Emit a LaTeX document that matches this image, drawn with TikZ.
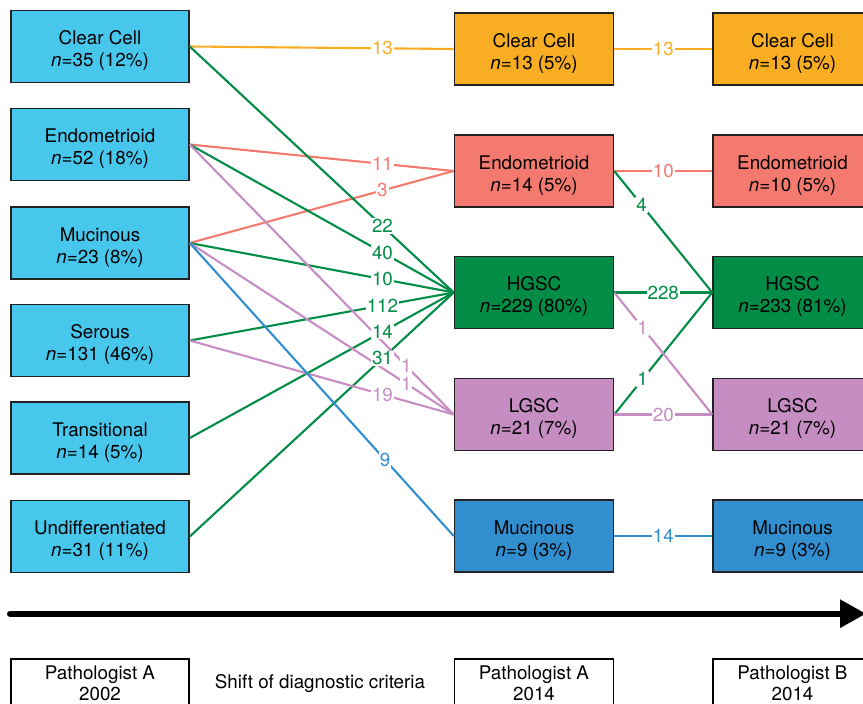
\documentclass[tikz,border=0pt]{standalone}
\usepackage{fontspec}
\setmainfont{TeX Gyre Heros}
\usepackage{xcolor}
\usepackage{tikz}
\usetikzlibrary{positioning,arrows.meta}
\definecolor{oldcolor}{RGB}{72,199,237}
\definecolor{clearcolor}{RGB}{249,173,34}
\definecolor{endocolor}{RGB}{244,122,111}
\definecolor{hgsccolor}{RGB}{2,140,70}
\definecolor{lgsccolor}{RGB}{198,141,195}
\definecolor{muccolor}{RGB}{49,143,208}
\definecolor{boxline}{RGB}{34,34,34}
\tikzset{
    diag box/.style={rectangle, draw=boxline, line width=1.5pt, align=center, inner sep=0pt,
        minimum height=72, font=\fontsize{18.8}{22}\selectfont, text height=40pt, text depth=0pt},
    old box/.style={diag box, fill=oldcolor, minimum width=178},
    new box/.style={diag box, minimum width=159},
    clear box/.style={new box, fill=clearcolor},
    endo box/.style={new box, fill=endocolor},
    hgsc box/.style={new box, fill=hgsccolor},
    lgsc box/.style={new box, fill=lgsccolor},
    muc box/.style={new box, fill=muccolor},
    rater box/.style={rectangle, draw=black, line width=1.2pt, align=center, inner sep=0pt,
        minimum height=48, font=\fontsize{18.8}{21}\selectfont},
    flow/.style={line width=2.1pt},
    count/.style={fill=white, inner sep=1pt, font=\fontsize{18.8}{20}\selectfont},
    timeline/.style={line width=6pt, line cap=round, -{Triangle[length=26pt,width=27pt]}}
}
% from/to/count/colour/pos
\newcommand{\firstflows}{l-clear/a-clear/13/clearcolor/.73,
    l-endo/a-endo/11/endocolor/.73, l-muc/a-endo/3/endocolor/.73,
    l-clear/a-hgsc/22/hgsccolor/.73, l-endo/a-hgsc/40/hgsccolor/.73,
    l-muc/a-hgsc/10/hgsccolor/.73, l-ser/a-hgsc/112/hgsccolor/.73,
    l-trans/a-hgsc/14/hgsccolor/.73, l-undiff/a-hgsc/31/hgsccolor/.73,
    l-endo/a-lgsc/1/lgsccolor/.82, l-muc/a-lgsc/1/lgsccolor/.82,
    l-ser/a-lgsc/19/lgsccolor/.73, l-muc/a-muc/9/muccolor/.74}
\newcommand{\secondflows}{a-clear/b-clear/13/clearcolor/.5,
    a-endo/b-endo/10/endocolor/.5, a-endo/b-hgsc/4/hgsccolor/.28,
    a-hgsc/b-hgsc/228/hgsccolor/.5, a-lgsc/b-hgsc/1/hgsccolor/.29,
    a-hgsc/b-lgsc/1/lgsccolor/.29, a-lgsc/b-lgsc/20/lgsccolor/.5,
    a-muc/b-muc/14/muccolor/.5}

\begin{document}
\begin{tikzpicture}[x=1pt, y=-1pt]
    \useasboundingbox (0,0) rectangle (863,704);
    \clip (0,0) rectangle (863,704);

    % Pathologist A, 2002
    \node[old box] (l-clear) at (100,46.5) {Clear Cell\\\textit{n}=35 (12\%)};
    \node[old box] (l-endo) at (100,144.5) {Endometrioid\\\textit{n}=52 (18\%)};
    \node[old box] (l-muc) at (100,243) {Mucinous\\\textit{n}=23 (8\%)};
    \node[old box] (l-ser) at (100,340.5) {Serous\\\textit{n}=131 (46\%)};
    \node[old box] (l-trans) at (100,438) {Transitional\\\textit{n}=14 (5\%)};
    \node[old box] (l-undiff) at (100,536.5) {Undifferentiated\\\textit{n}=31 (11\%)};

    % Pathologist A, 2014
    \node[clear box] (a-clear) at (534,49) {Clear Cell\\\textit{n}=13 (5\%)};
    \node[endo box] (a-endo) at (534,171) {Endometrioid\\\textit{n}=14 (5\%)};
    \node[hgsc box] (a-hgsc) at (534,292.5) {HGSC\\\textit{n}=229 (80\%)};
    \node[lgsc box] (a-lgsc) at (534,414.5) {LGSC\\\textit{n}=21 (7\%)};
    \node[muc box] (a-muc) at (534,536) {Mucinous\\\textit{n}=9 (3\%)};

    % Pathologist B, 2014 (cut off at the right)
    \node[clear box] (b-clear) at (792.5,49) {Clear Cell\\\textit{n}=13 (5\%)};
    \node[endo box] (b-endo) at (792.5,171) {Endometrioid\\\textit{n}=10 (5\%)};
    \node[hgsc box] (b-hgsc) at (792.5,292.5) {HGSC\\\textit{n}=233 (81\%)};
    \node[lgsc box] (b-lgsc) at (792.5,414.5) {LGSC\\\textit{n}=21 (7\%)};
    \node[muc box] (b-muc) at (792.5,536) {Mucinous\\\textit{n}=9 (3\%)};

    % Connectors first, counts on top of all of them
    \foreach \src/\dst/\cnt/\col/\ps in \firstflows
        \draw[flow, \col] (\src.east) -- (\dst.west);
    \foreach \src/\dst/\cnt/\col/\ps in \secondflows
        \draw[flow, \col] (\src.east) -- (\dst.west);
    \foreach \src/\dst/\cnt/\col/\ps in \firstflows
        \path (\src.east) -- node[count, text=\col, pos=\ps] {\cnt} (\dst.west);
    \foreach \src/\dst/\cnt/\col/\ps in \secondflows
        \path (\src.east) -- node[count, text=\col, pos=\ps] {\cnt} (\dst.west);

    % Time axis
    \coordinate (t-start) at (10,613.7);
    \coordinate (t-end) at (866,613.7);
    \draw[timeline] (t-start) -- (t-end);

    % Raters along the bottom
    \node[rater box, minimum width=178] (r-a02) at (100,683) {Pathologist A\\2002};
    \node[font=\fontsize{18.8}{21}\selectfont] (shift) at (320,684) {Shift of diagnostic criteria};
    \node[rater box, minimum width=159] (r-a14) at (534,683) {Pathologist A\\2014};
    \node[rater box, minimum width=159] (r-b14) at (792.5,683) {Pathologist B\\2014};
\end{tikzpicture}
\end{document}
